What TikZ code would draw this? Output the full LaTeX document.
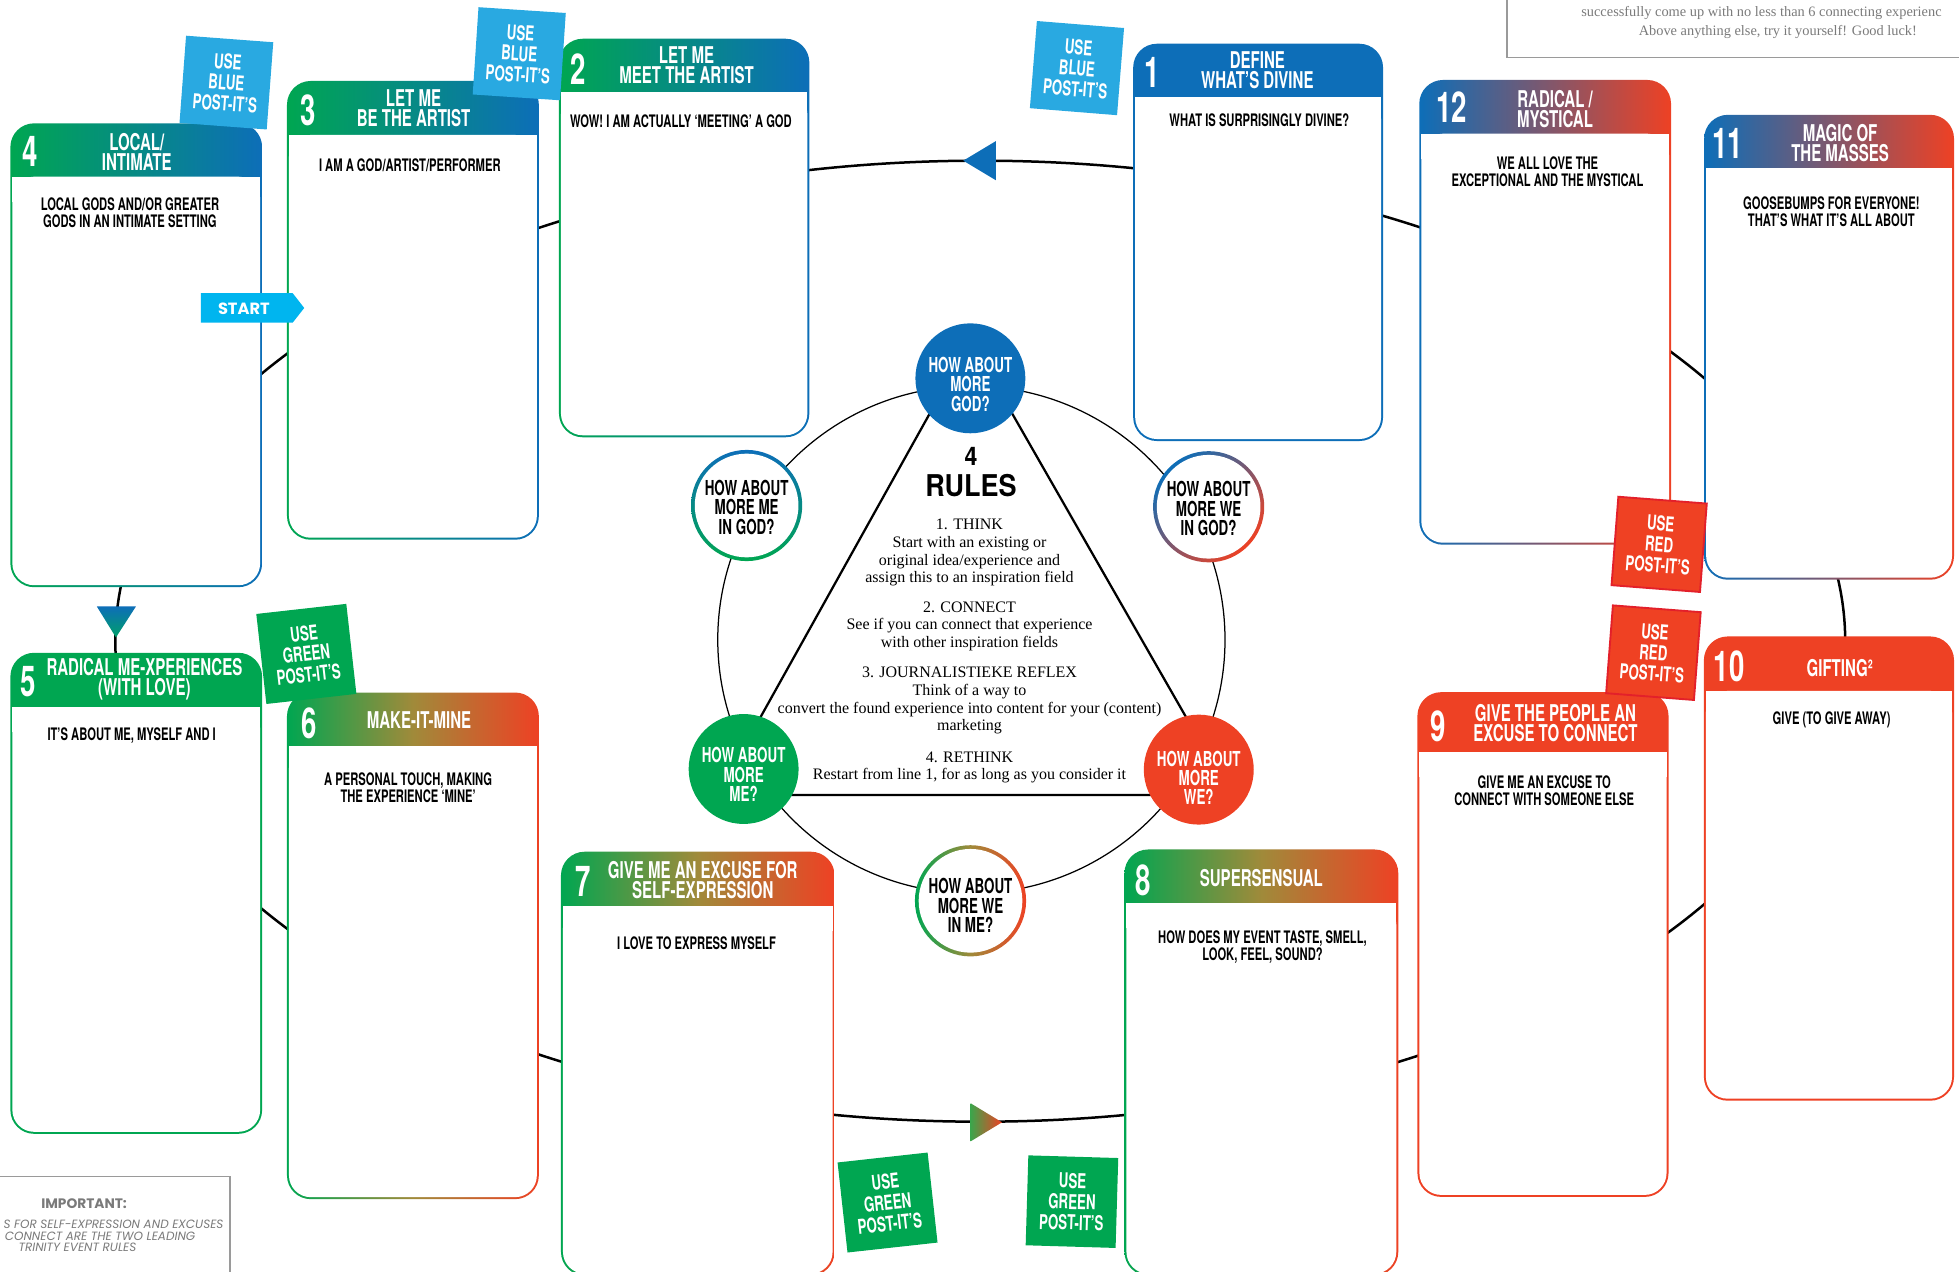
\documentclass[tikz,border=0pt]{standalone}
\usepackage{fontspec}
\setmainfont{Liberation Serif}
\newfontfamily\cond[FakeStretch=0.65]{TeX Gyre Heros}
\newfontfamily\dinf[FakeStretch=0.9]{TeX Gyre Heros}
\newfontfamily\geo{Poppins}
\definecolor{cblue}{HTML}{0D6EB8}
\definecolor{cgreen}{HTML}{00A651}
\definecolor{cred}{HTML}{EE4124}
\definecolor{colive}{HTML}{A08A3A}
\definecolor{cteal}{HTML}{00A069}
\definecolor{sblue}{HTML}{29A9E1}
\definecolor{sred}{HTML}{EF4123}
\definecolor{sredline}{HTML}{E3202A}
\definecolor{cstart}{HTML}{00B5EF}
\definecolor{notegrey}{HTML}{7A7A7A}
\definecolor{boxgrey}{HTML}{9A9A9A}
\newcommand\cardframe[7]{%
  \path[#2, rounded corners=19] (#3,#4) rectangle (#5,#6);
  \fill[white, rounded corners=17.4] ({#3+1.6},#7) rectangle ({#5-1.6},{#6-1.6});
  \fill[white] ({#3+1.6},#7) rectangle ({#5-1.6},{#7+20});
  \node[inner sep=0, minimum width={#5-#3}, minimum height={#6-#4}] (#1) at ({(#3+#5)/2},{(#4+#6)/2}) {};
}
\begin{document}
\begin{tikzpicture}[x=1pt,y=-1pt,
  gb/.style={left color=cgreen, right color=cblue},
  gr/.style={left color=cgreen, right color=cred, middle color=colive},
  br/.style={left color=cblue, right color=cred},
  sbl/.style={fill=cblue},
  sgr/.style={fill=cgreen},
  srd/.style={fill=cred},
  cardtitle/.style={text=white, font=\cond\bfseries\fontsize{18.5}{16}\selectfont, align=center, inner sep=0},
  cardnum/.style={text=white, font=\cond\bfseries\fontsize{34}{34}\selectfont, inner sep=0},
  cardbody/.style={text=black, font=\cond\bfseries\fontsize{13.8}{13.6}\selectfont, align=center, inner sep=0},
  sticker/.style={inner sep=0, align=center, text=white, font=\cond\bfseries\fontsize{16.4}{16.7}\selectfont},
  circtext/.style={inner sep=0, align=center, font=\cond\bfseries\fontsize{16.5}{15.5}\selectfont},
  rulehead/.style={inner sep=0, align=center, font=\fontsize{12.8}{14.2}\selectfont},
  rulebody/.style={inner sep=0, align=center, font=\fontsize{12.8}{14.2}\selectfont},
  ring/.style={circle, inner sep=0, minimum size=89},
  disc/.style={circle, inner sep=0, minimum size=88},
  hole/.style={circle, inner sep=0, minimum size=83, fill=white},
  notetext/.style={inner sep=0, text=notegrey, font=\fontsize{11.5}{13}\selectfont},
  imptext/.style={inner sep=0, text=notegrey, font=\geo\itshape\fontsize{9.6}{10}\selectfont}
]
\useasboundingbox (0,0) rectangle (1568,1018);
\clip (0,0) rectangle (1568,1018);

% the big loop
\coordinate (loopc) at (784.6,513.2);
\draw[line width=2] (loopc) ellipse[x radius=692.3, y radius=384.6];

% cards
\cardframe{c1}{sbl}{907}{35}{1107}{353}{78}
\cardframe{c2}{gb}{447.4}{31}{647.8}{350}{74}
\cardframe{c3}{gb}{229.7}{64.8}{431.3}{432}{108}
\cardframe{c4}{gb}{8.3}{98.7}{209.8}{470}{141.4}
\cardframe{c5}{sgr}{8.3}{522.5}{209.8}{907.5}{566}
\cardframe{c6}{gr}{229.7}{554.3}{431.3}{959.8}{597.4}
\cardframe{c7}{gr}{449}{681.7}{668}{1021}{725.4}
\cardframe{c8}{gr}{900}{679.9}{1119.2}{1021}{723}
\cardframe{c9}{srd}{1134.5}{554}{1335.5}{958}{602}
\cardframe{c10}{srd}{1363.8}{509.4}{1564}{881}{553}
\cardframe{c11}{br}{1364}{91.9}{1564}{464}{134.6}
\cardframe{c12}{br}{1136}{64}{1337.5}{436}{107}

% card texts
\node[cardnum] (c1n) at (922,58) {1};
\node[cardtitle] (c1t) at (1006.4,56) {DEFINE\\WHAT’S DIVINE};
\node[cardbody] (c1b) at (1008,96.5) {WHAT IS SURPRISINGLY DIVINE?};

\node[cardnum] (c2n) at (462.6,55) {2};
\node[cardtitle] (c2t) at (549.5,52) {LET ME\\MEET THE ARTIST};
\node[cardbody] (c2b) at (545,97.4) {WOW! I AM ACTUALLY ‘MEETING’ A GOD};

\node[cardnum] (c3n) at (247,88) {3};
\node[cardtitle] (c3t) at (331,86.4) {LET ME\\BE THE ARTIST};
\node[cardbody] (c3b) at (328,132) {I AM A GOD/ARTIST/PERFORMER};

\node[cardnum] (c4n) at (24.5,121) {4};
\node[cardtitle] (c4t) at (109.5,121.4) {LOCAL/\\INTIMATE};
\node[cardbody] (c4b) at (104,170.5) {LOCAL GODS AND/OR GREATER\\GODS IN AN INTIMATE SETTING};

\node[cardnum] (c5n) at (22.4,545.5) {5};
\node[cardtitle] (c5t) at (115.6,543.9) {RADICAL ME-XPERIENCES\\(WITH LOVE)};
\node[cardbody] (c5b) at (105.4,588.6) {IT’S ABOUT ME, MYSELF AND I};

\node[cardnum] (c6n) at (247.4,579) {6};
\node[cardtitle] (c6t) at (335.4,576.2) {MAKE-IT-MINE};
\node[cardbody] (c6b) at (326.7,630.6) {A PERSONAL TOUCH, MAKING\\THE EXPERIENCE ‘MINE’};

\node[cardnum] (c7n) at (466.7,705.7) {7};
\node[cardtitle] (c7t) at (562.5,704.8) {GIVE ME AN EXCUSE FOR\\SELF-EXPRESSION};
\node[cardbody] (c7b) at (557.5,755) {I LOVE TO EXPRESS MYSELF};

\node[cardnum] (c8n) at (914.7,704.4) {8};
\node[cardtitle] (c8t) at (1009.6,703) {SUPERSENSUAL};
\node[cardbody] (c8b) at (1010.5,758.1) {HOW DOES MY EVENT TASTE, SMELL,\\LOOK, FEEL, SOUND?};

\node[cardnum] (c9n) at (1151.3,581.4) {9};
\node[cardtitle] (c9t) at (1245,578.8) {GIVE THE PEOPLE AN\\EXCUSE TO CONNECT};
\node[cardbody] (c9b) at (1236,633.2) {GIVE ME AN EXCUSE TO\\CONNECT WITH SOMEONE ELSE};

\node[cardnum] (c10n) at (1384,533.4) {10};
\node[cardtitle] (c10t) at (1472.5,534.5) {GIFTING²};
\node[cardbody] (c10b) at (1466,576.3) {GIVE (TO GIVE AWAY)};

\node[cardnum] (c11n) at (1383,115) {11};
\node[cardtitle] (c11t) at (1472.8,114.8) {MAGIC OF\\THE MASSES};
\node[cardbody] (c11b) at (1465.8,169.2) {GOOSEBUMPS FOR EVERYONE!\\THAT’S WHAT IT’S ALL ABOUT};

\node[cardnum] (c12n) at (1162,85.8) {12};
\node[cardtitle] (c12t) at (1244.7,87) {RADICAL /\\MYSTICAL};
\node[cardbody] (c12b) at (1238.6,137.4) {WE ALL LOVE THE\\EXCEPTIONAL AND THE MYSTICAL};

% loop arrowheads
\fill[cblue] (771,128.6) -- (797,113) -- (797,144.2) -- cycle;
\shade[left color={rgb,255:red,60;green,165;blue,75}, right color=cred] (776.8,883) -- (802,898.3) -- (776.8,913.6) -- cycle;
\shade[top color=cblue, bottom color=cteal] (77.5,485.4) -- (108.8,485.4) -- (92.8,510.2) -- cycle;

% inner circle and triangle
\coordinate (innc) at (777.5,512);
\draw[line width=1] (innc) circle[radius=203];
\coordinate (tA) at (776.7,272.6);
\coordinate (tB) at (574,636.3);
\coordinate (tC) at (985,636.3);
\draw[line width=1.8, line join=miter] (tA) -- (tB) -- (tC) -- cycle;

% small circles
\node[disc, fill=cblue] (god) at (776.7,302.8) {};
\node[circtext, text=white] (godt) at (776.7,307.7) {HOW ABOUT\\MORE\\GOD?};
\node[disc, fill=cgreen] (me) at (595.2,615.5) {};
\node[circtext, text=white] (met) at (595.2,620) {HOW ABOUT\\MORE\\ME?};
\node[disc, fill=cred] (we) at (959.5,616) {};
\node[circtext, text=white] (wet) at (959.5,622.5) {HOW ABOUT\\MORE\\WE?};

\node[ring, top color=cblue, bottom color=cgreen] (meingodr) at (597.6,404.6) {};
\node[hole] (meingodh) at (597.6,404.6) {};
\node[circtext, text=black] (meingodt) at (597.6,406.1) {HOW ABOUT\\MORE ME\\IN GOD?};

\node[ring, top color=cblue, bottom color=cred, shading angle=45] (weingodr) at (967.4,405.6) {};
\node[hole] (weingodh) at (967.4,405.6) {};
\node[circtext, text=black] (weingodt) at (967.4,407.2) {HOW ABOUT\\MORE WE\\IN GOD?};

\node[ring, left color=cgreen, right color=cred, middle color=colive] (weinmer) at (776.8,721) {};
\node[hole] (weinmeh) at (776.8,721) {};
\node[circtext, text=black] (weinmet) at (776.8,724.9) {HOW ABOUT\\MORE WE\\IN ME?};

% rules
\node[inner sep=0, font=\dinf\bfseries\fontsize{20.5}{20}\selectfont] (r4) at (777.3,365.5) {4};
\node[inner sep=0, font=\dinf\bfseries\fontsize{24}{24}\selectfont] (rrules) at (777.2,388.7) {RULES};
\node[rulehead] (r1h) at (776,419.7) {1. THINK};
\node[rulebody] (r1b) at (776,449.2) {Start with an existing or\\original idea/experience and\\assign this to an inspiration field};
\node[rulehead] (r2h) at (776,486.1) {2. CONNECT};
\node[rulebody] (r2b) at (776,507.9) {See if you can connect that experience\\with other inspiration fields};
\node[rulehead] (r3h) at (776,538.1) {3. JOURNALISTIEKE REFLEX};
\node[rulebody] (r3b) at (776,567.6) {Think of a way to\\convert the found experience into content for your (content)\\marketing};
\node[rulehead] (r4h) at (776,606.1) {4. RETHINK};
\node[rulebody] (r4b) at (776,621.1) {Restart from line 1, for as long as you consider it};

% stickers
\node[sticker, fill=sblue, minimum size=70, rotate=-4.3] (s1) at (181.2,66.1) {USE\\BLUE\\POST-IT’S};
\node[sticker, fill=sblue, minimum size=70, rotate=-3.8] (s2) at (415.6,43) {USE\\BLUE\\POST-IT’S};
\node[sticker, fill=sblue, minimum size=70, rotate=-4.6] (s3) at (862,54.5) {USE\\BLUE\\POST-IT’S};
\node[sticker, fill=sred, draw=sredline, line width=1.5, minimum size=71, rotate=-4.4] (s4) at (1328,435.7) {USE\\RED\\POST-IT’S};
\node[sticker, fill=sred, draw=sredline, line width=1.5, minimum size=70.5, rotate=-4.4] (s5) at (1323.4,522.4) {USE\\RED\\POST-IT’S};
\node[sticker, fill=cgreen, minimum size=72.5, rotate=6.4] (s6) at (245.2,523.4) {USE\\GREEN\\POST-IT’S};
\node[sticker, fill=cgreen, minimum size=72.5, rotate=6.3] (s7) at (710.4,962.5) {USE\\GREEN\\POST-IT’S};
\node[sticker, fill=cgreen, minimum size=72, rotate=-1.7] (s8) at (858,961.8) {USE\\GREEN\\POST-IT’S};

% start tag
\fill[cstart] (160.7,234.7) -- (234.3,234.7) -- (243.5,246.5) -- (234.3,258.2) -- (160.7,258.2) -- cycle;
\node[inner sep=0, text=white, font=\geo\bfseries\fontsize{13}{13}\selectfont] (start) at (195.2,246.8) {START};

% note boxes
\draw[boxgrey, line width=1.2] (1206,-5) rectangle (1580,46);
\node[notetext, anchor=west] (note1) at (1265.5,10.7) {successfully come up with no less than 6 connecting experienc};
\node[notetext] (note2) at (1423,26) {Above anything else, try it yourself! Good luck!};

\draw[boxgrey, line width=1.2] (-5,941.8) rectangle (184,1030);
\node[inner sep=0, text=notegrey, font=\geo\bfseries\fontsize{11}{11}\selectfont] (imp) at (67.3,963.1) {IMPORTANT:};
\node[imptext, anchor=east] (imp1) at (179,979.9) {S FOR SELF-EXPRESSION AND EXCUSES};
\node[imptext, anchor=east] (imp2) at (156.5,989.3) {CONNECT ARE THE TWO LEADING};
\node[imptext] (imp3) at (62,998.3) {TRINITY EVENT RULES};
\end{tikzpicture}
\end{document}
